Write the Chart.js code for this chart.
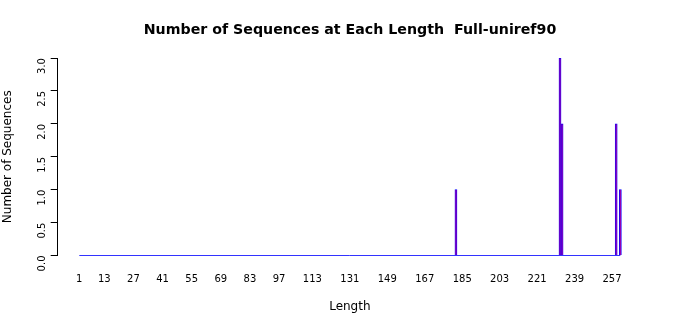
<!DOCTYPE html>
<html>
<head>
<meta charset="utf-8">
<script src="https://cdn.jsdelivr.net/npm/chart.js@4/dist/chart.umd.min.js"></script>
<style>
  html, body { margin: 0; padding: 0; background: #fff; }
  #wrap { width: 700px; height: 315px; }
</style>
</head>
<body>
<div id="wrap"><canvas id="chart"></canvas></div>
<script>
// sequence lengths that occur, and how many sequences have each
const lengths = [182, 232, 233, 259, 261];
const counts = [1, 3, 2, 2, 1];
// range of lengths on the axis (zero bars in between)
const minLength = 1;
const maxLength = 261;
// x tick labels that fit without overlapping
const tickLabels = [1, 13, 27, 41, 55, 69, 83, 97, 113, 131, 149, 167, 185, 203, 221, 239, 257];

const FONT = "'DejaVu Sans', sans-serif";

new Chart(document.getElementById('chart'), {
  data: {
    datasets: [
      {
        type: 'bar',
        data: lengths.map((l, i) => ({ x: l, y: counts[i] })),
        // thin red bars with blue outline blend to violet
        backgroundColor: '#9a00b0',
        borderColor: '#0000ff',
        borderWidth: 0.75,
        borderSkipped: 'start',
        categoryPercentage: 1,
        barPercentage: 1,
        order: 2
      },
      {
        type: 'line',
        data: [{ x: minLength, y: 0 }, { x: maxLength, y: 0 }],
        borderColor: '#3333ff',
        borderWidth: 1,
        pointRadius: 0,
        clip: false,
        order: 1
      }
    ]
  },
  options: {
    responsive: true,
    maintainAspectRatio: false,
    animation: false,
    layout: { padding: 0 },
    plugins: {
      legend: { display: false },
      tooltip: { enabled: false },
      title: {
        display: true,
        text: 'Number of Sequences at Each Length  Full-uniref90',
        color: '#000',
        font: { family: FONT, size: 14.2, weight: 'bold' },
        padding: { top: 22, bottom: 19 }
      }
    },
    scales: {
      x: {
        type: 'linear',
        offset: false,
        min: -9.38,
        max: 271.4,
        grid: { display: false, drawTicks: false },
        border: { display: false },
        afterBuildTicks: s => { s.ticks = tickLabels.map(v => ({ value: v })); },
        afterFit: s => { s.height = 59.5; },
        ticks: {
          autoSkip: false,
          maxRotation: 0,
          color: '#000',
          padding: 18,
          font: { family: FONT, size: 10 },
          callback: v => String(v)
        },
        title: {
          display: true,
          text: 'Length',
          color: '#000',
          font: { family: FONT, size: 12 },
          padding: { top: 0, bottom: 1 }
        }
      },
      y: {
        min: 0,
        max: 3,
        afterFit: s => { s.width = 57.7; },
        grid: { display: true, drawOnChartArea: false, drawTicks: true, tickLength: 7, color: '#000' },
        border: { display: true, color: '#000', width: 1 },
        ticks: {
          stepSize: 0.5,
          minRotation: 90,
          maxRotation: 90,
          color: '#000',
          padding: 8,
          font: { family: FONT, size: 10 },
          callback: v => v.toFixed(1)
        },
        title: {
          display: true,
          text: 'Number of Sequences',
          color: '#000',
          font: { family: FONT, size: 12 },
          padding: { top: 1, bottom: 0 }
        }
      },
      // empty right margin of the plot region
      yRight: {
        position: 'right',
        display: true,
        afterFit: s => { s.width = 58; },
        grid: { display: false, drawTicks: false },
        border: { display: false },
        ticks: { display: false }
      }
    }
  }
});
</script>
</body>
</html>
